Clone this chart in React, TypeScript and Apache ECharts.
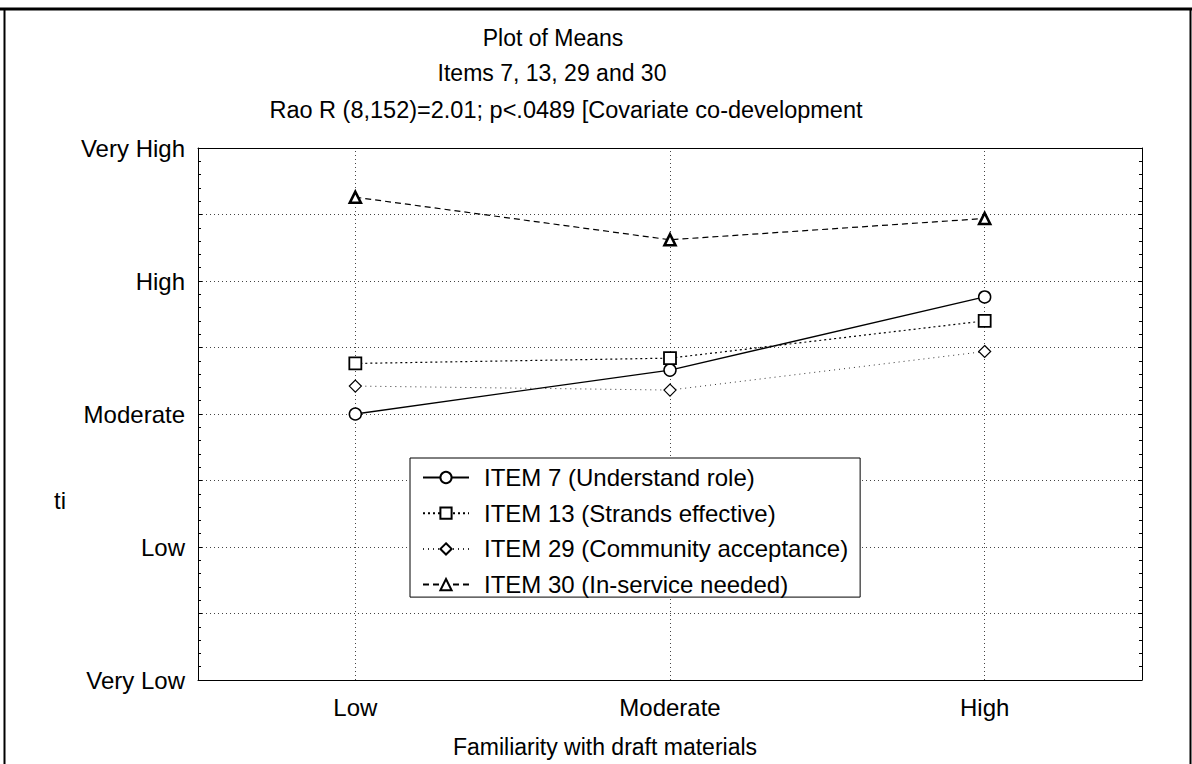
import React, { useEffect, useRef } from 'react';
import * as echarts from 'echarts';

const categories = ['Low', 'Moderate', 'High'];
const yLevels = ['Very Low', 'Low', 'Moderate', 'High', 'Very High']; // values 1..5
const item7 = [3.0, 3.33, 3.88];
const item13 = [3.38, 3.42, 3.7];
const item29 = [3.21, 3.18, 3.47];
const item30 = [4.63, 4.31, 4.47];
const seriesNames = [
  'ITEM 7 (Understand role)',
  'ITEM 13 (Strands effective)',
  'ITEM 29 (Community acceptance)',
  'ITEM 30 (In-service needed)',
];
const titleLines = [
  'Plot of Means',
  'Items 7, 13, 29 and 30',
  'Rao R (8,152)=2.01; p<.0489 [Covariate co-development',
];
const xAxisTitle = 'Familiarity with draft materials';
const yAxisFragment = 'ti';

const FONT = '"Liberation Sans", Arial, sans-serif';
const FS = 24;

export default function App() {
  const ref = useRef<HTMLDivElement>(null);
  useEffect(() => {
    document.body.style.margin = '0';
    const chart = echarts.init(ref.current!, null, { renderer: 'svg' });
    const grid = '#444';
    const option: any = {
      animation: false,
      backgroundColor: '#fff',
      textStyle: { fontFamily: FONT },
      grid: { left: 198, top: 148, width: 944, height: 532, show: false },
      legend: {
        orient: 'vertical',
        left: 410,
        top: 458,
        padding: [7, 12, 0, 12],
        itemWidth: 46,
        itemHeight: 14,
        itemGap: 10.7,
        borderColor: '#000',
        borderWidth: 1,
        backgroundColor: '#fff',
        textStyle: { fontSize: FS, color: '#000', fontFamily: FONT, lineHeight: 25, padding: [0, 0, 0, 10] },
        data: seriesNames,
        selectedMode: false,
      },
      xAxis: [
        {
          type: 'category',
          data: categories,
          boundaryGap: true,
          axisLine: { show: true, lineStyle: { color: '#000', width: 1 } },
          axisTick: { show: false },
          axisLabel: { fontSize: FS, color: '#000', margin: 15, fontFamily: FONT },
          splitLine: { show: false },
        },
        {
          type: 'category',
          data: categories,
          position: 'top',
          axisLine: { show: true, lineStyle: { color: '#000', width: 1 } },
          axisTick: { show: false },
          axisLabel: { show: false },
          splitLine: { show: false },
        },
      ],
      yAxis: [
        {
          type: 'value',
          min: 1,
          max: 5,
          interval: 0.5,
          position: 'left',
          axisLine: { show: true, lineStyle: { color: '#000', width: 1 } },
          axisTick: { show: true, inside: true, length: 4, lineStyle: { color: '#000' } },
          minorTick: { show: true, splitNumber: 5, length: 3, lineStyle: { color: '#000' } },
          axisLabel: {
            fontSize: FS,
            color: '#000',
            margin: 13,
            fontFamily: FONT,
            formatter: (v: number) =>
              Math.abs(v - Math.round(v)) < 1e-6 ? yLevels[Math.round(v) - 1] : '',
          },
          splitLine: { show: true, lineStyle: { type: [1, 3], color: grid, width: 1 } },
        },
        {
          type: 'value',
          min: 1,
          max: 5,
          interval: 0.5,
          position: 'right',
          axisLine: { show: true, lineStyle: { color: '#000', width: 1 } },
          axisTick: { show: true, inside: true, length: 4, lineStyle: { color: '#000' } },
          minorTick: { show: true, splitNumber: 5, length: 3, lineStyle: { color: '#000' } },
          axisLabel: { show: false },
          splitLine: { show: false },
        },
      ],
      series: [
        {
          name: seriesNames[0],
          type: 'line',
          data: item7,
          symbol: 'circle',
          symbolSize: 12,
          z: 5,
          lineStyle: { color: '#000', width: 1.3, type: 'solid' },
          itemStyle: { color: '#fff', borderColor: '#000', borderWidth: 1.5 },
          emphasis: { disabled: true },
          markLine: {
            silent: true,
            symbol: ['none', 'none'],
            label: { show: false },
            lineStyle: { type: [1, 3], color: grid, width: 1 },
            emphasis: { disabled: true },
            z: 1,
            data: categories.map((c) => ({ xAxis: c })),
          },
        },
        {
          name: seriesNames[1],
          type: 'line',
          data: item13,
          symbol: 'rect',
          symbolSize: 12,
          z: 5,
          lineStyle: { color: '#000', width: 1.2, type: [2, 3] },
          itemStyle: { color: '#fff', borderColor: '#000', borderWidth: 1.8 },
          emphasis: { disabled: true },
        },
        {
          name: seriesNames[2],
          type: 'line',
          data: item29,
          symbol: 'diamond',
          symbolSize: 12,
          z: 5,
          lineStyle: { color: '#333', width: 1, type: [1, 4] },
          itemStyle: { color: '#fff', borderColor: '#000', borderWidth: 1.2 },
          emphasis: { disabled: true },
        },
        {
          name: seriesNames[3],
          type: 'line',
          data: item30,
          symbol: 'triangle',
          symbolSize: 11,
          z: 5,
          lineStyle: { color: '#000', width: 1.2, type: [6, 4] },
          itemStyle: { color: '#fff', borderColor: '#000', borderWidth: 2.6 },
          emphasis: { disabled: true },
        },
      ],
      graphic: [
        { type: 'line', shape: { x1: 0, y1: 9, x2: 1192, y2: 9 }, style: { stroke: '#000', lineWidth: 3 } },
        { type: 'line', shape: { x1: 4.5, y1: 9, x2: 4.5, y2: 764 }, style: { stroke: '#000', lineWidth: 2 } },
        { type: 'line', shape: { x1: 1190.5, y1: 9, x2: 1190.5, y2: 764 }, style: { stroke: '#000', lineWidth: 2 } },
        {
          type: 'text',
          x: 553,
          y: 38,
          style: { text: titleLines[0], fill: '#000', font: `23px ${FONT}`, align: 'center', verticalAlign: 'middle' },
        },
        {
          type: 'text',
          x: 552,
          y: 73,
          style: { text: titleLines[1], fill: '#000', font: `23px ${FONT}`, align: 'center', verticalAlign: 'middle' },
        },
        {
          type: 'text',
          x: 566,
          y: 110,
          style: { text: titleLines[2], fill: '#000', font: `23.5px ${FONT}`, align: 'center', verticalAlign: 'middle' },
        },
        {
          type: 'text',
          x: 605,
          y: 747,
          style: { text: xAxisTitle, fill: '#000', font: `23px ${FONT}`, align: 'center', verticalAlign: 'middle' },
        },
        {
          type: 'text',
          x: 54,
          y: 500,
          style: { text: yAxisFragment, fill: '#000', font: `${FS}px ${FONT}`, align: 'left', verticalAlign: 'middle' },
        },
      ],
    };
    chart.setOption(option);
    return () => chart.dispose();
  }, []);
  return <div ref={ref} style={{ width: 1192, height: 764 }} />;
}
